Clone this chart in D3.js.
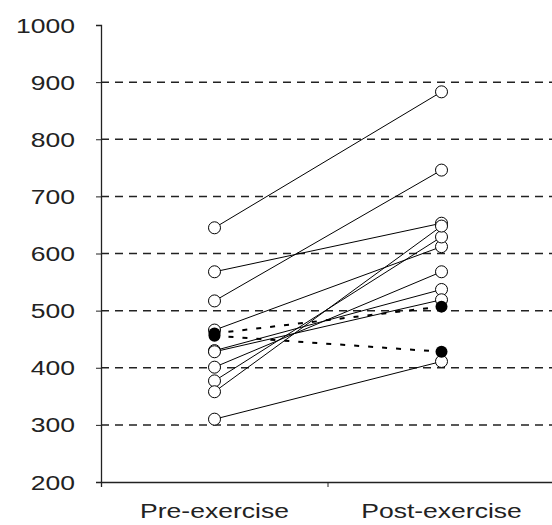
<!DOCTYPE html>
<html>
<head>
<meta charset="utf-8">
<script src="https://cdn.jsdelivr.net/npm/d3@7"></script>
<style>
  body { margin: 0; background: #fff; }
  text { font-family: "Liberation Sans", Arial, sans-serif; }
</style>
</head>
<body>
<figure id="chart" style="margin:0"></figure>
<script>
// categories and tick values
const categories = ["Pre-exercise", "Post-exercise"];
const yTicks = [200, 300, 400, 500, 600, 700, 800, 900, 1000];
const gridValues = [300, 400, 500, 600, 700, 800, 900];

// individual subjects (open circles)
const preValues  = [645, 568, 517, 466, 430, 428, 401, 377, 358, 310];
const postValues = [883, 653, 746, 612, 537, 519, 568, 629, 648, 411];

// group means (filled circles, dotted lines)
const meanPre  = [460, 456];
const meanPost = [507, 428];

const width = 552, height = 525;
const sx = 1.36; // the reference font is stretched sideways

const svg = d3.select("#chart")
  .append("svg")
  .attr("width", width)
  .attr("height", height);

const y = d3.scaleLinear()
  .domain([200, 1000])
  .range([482, 25]);

const x = d3.scaleBand()
  .domain(categories)
  .range([101, 555]);

const cx = d => x(d) + x.bandwidth() / 2;

// gridlines
svg.append("g")
  .selectAll("line")
  .data(gridValues)
  .enter()
  .append("line")
  .attr("x1", 101)
  .attr("x2", width)
  .attr("y1", d => y(d))
  .attr("y2", d => y(d))
  .attr("stroke", "#222")
  .attr("stroke-width", 1.5)
  .attr("stroke-dasharray", "8,6");

// Y axis
const yAxis = svg.append("g")
  .attr("transform", "translate(101,0)")
  .call(d3.axisLeft(y).tickValues(yTicks).tickSize(5).tickFormat(d3.format("d")));
yAxis.select(".domain").attr("stroke", "#222").attr("stroke-width", 1.3);
yAxis.selectAll(".tick line").attr("stroke", "#222");
yAxis.selectAll("text")
  .attr("x", -26 / sx)
  .attr("dy", "0.36em")
  .attr("transform", `scale(${sx},1)`)
  .attr("font-size", 19.5)
  .attr("fill", "#222");

// X axis
const xAxis = svg.append("g")
  .attr("transform", "translate(0,482)")
  .call(d3.axisBottom(x).tickSize(0).tickSizeOuter(5).tickFormat(""));
xAxis.select(".domain").attr("stroke", "#222").attr("stroke-width", 1.3);

// boundary ticks between categories
xAxis.append("g")
  .selectAll("line")
  .data(categories)
  .enter()
  .append("line")
  .attr("x1", d => x(d) + x.step())
  .attr("x2", d => x(d) + x.step())
  .attr("y1", 0)
  .attr("y2", 5)
  .attr("stroke", "#222");

// category labels
svg.append("g")
  .selectAll("text")
  .data(categories)
  .enter()
  .append("text")
  .attr("transform", d => `translate(${cx(d)},518) scale(${sx},1)`)
  .attr("text-anchor", "middle")
  .attr("font-size", 19.5)
  .attr("fill", "#222")
  .text(d => d);

// subject lines
svg.append("g")
  .selectAll("line")
  .data(preValues)
  .enter()
  .append("line")
  .attr("x1", cx(categories[0]))
  .attr("x2", cx(categories[1]))
  .attr("y1", d => y(d))
  .attr("y2", (d, i) => y(postValues[i]))
  .attr("stroke", "#000")
  .attr("stroke-width", 1);

// mean lines
svg.append("g")
  .selectAll("line")
  .data(meanPre)
  .enter()
  .append("line")
  .attr("x1", cx(categories[0]))
  .attr("x2", cx(categories[1]))
  .attr("y1", d => y(d))
  .attr("y2", (d, i) => y(meanPost[i]))
  .attr("stroke", "#000")
  .attr("stroke-width", 2)
  .attr("stroke-dasharray", "5,9");

// open circles
const dots = svg.append("g");
dots.selectAll(".pre")
  .data(preValues)
  .enter()
  .append("circle")
  .attr("cx", cx(categories[0]))
  .attr("cy", d => y(d))
  .attr("r", 6)
  .attr("fill", "#fff")
  .attr("stroke", "#000");
dots.selectAll(".post")
  .data(postValues)
  .enter()
  .append("circle")
  .attr("cx", cx(categories[1]))
  .attr("cy", d => y(d))
  .attr("r", 6)
  .attr("fill", "#fff")
  .attr("stroke", "#000");

// filled circles
dots.selectAll(".mpre")
  .data(meanPre)
  .enter()
  .append("circle")
  .attr("cx", cx(categories[0]))
  .attr("cy", d => y(d))
  .attr("r", 6)
  .attr("fill", "#000");
dots.selectAll(".mpost")
  .data(meanPost)
  .enter()
  .append("circle")
  .attr("cx", cx(categories[1]))
  .attr("cy", d => y(d))
  .attr("r", 6)
  .attr("fill", "#000");
</script>
</body>
</html>
